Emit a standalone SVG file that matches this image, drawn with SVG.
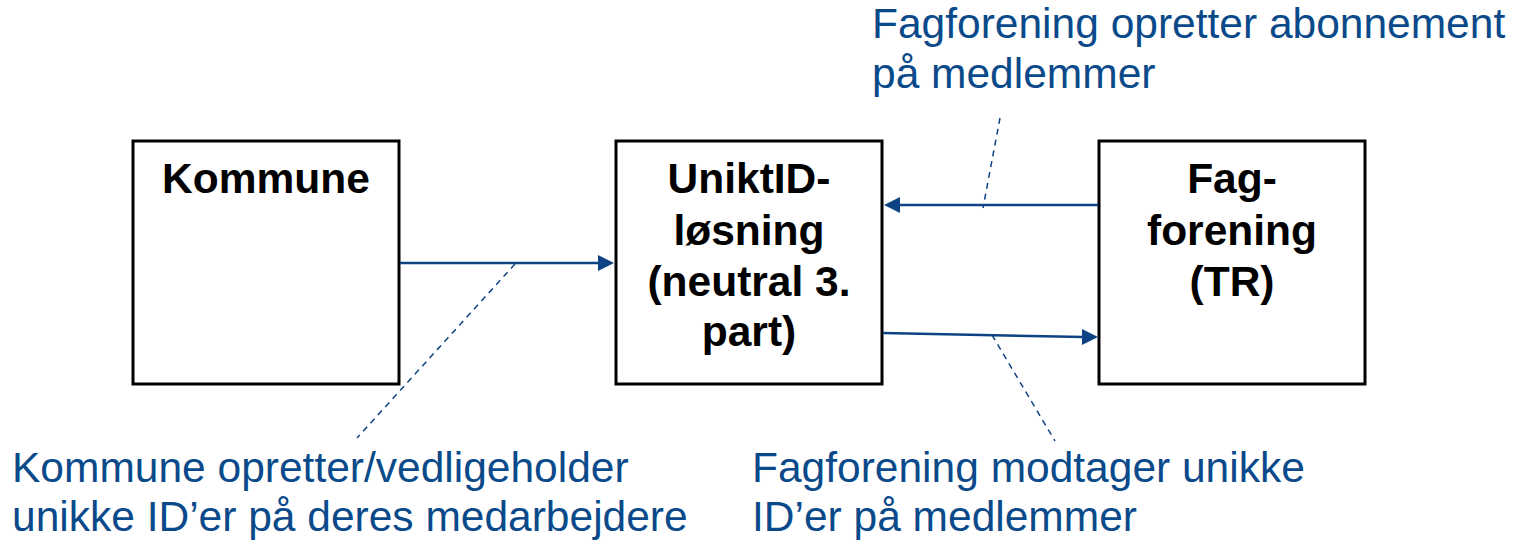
<svg xmlns="http://www.w3.org/2000/svg" width="1524" height="541" viewBox="0 0 1524 541">
<style>
.box{fill:#fff;stroke:#000;stroke-width:3}
.t{font-family:"Liberation Sans",Arial,sans-serif;font-weight:bold;font-size:42.5px;fill:#000;text-anchor:middle}
.lbl{font-family:"Liberation Sans",Arial,sans-serif;font-size:42.5px;fill:#0A4A8A}
.c{stroke:#0D4283;stroke-width:2.5;fill:none}
.d{stroke:#0D4283;stroke-width:1.5;fill:none;stroke-dasharray:6 5}
.ah{fill:#0D4283}
</style>
<rect width="1524" height="541" fill="#fff"/>
<g id="kommune">
<rect class="box" x="133" y="141" width="266" height="243"/>
<text class="t" x="266" y="193">Kommune</text>
</g>
<g id="uniktid">
<rect class="box" x="616" y="141" width="266" height="243"/>
<text class="t" x="749" y="193">UniktID-</text>
<text class="t" x="749" y="245">løsning</text>
<text class="t" x="749" y="296">(neutral 3.</text>
<text class="t" x="749" y="346">part)</text>
</g>
<g id="fagforening">
<rect class="box" x="1099" y="141" width="266" height="243"/>
<text class="t" x="1232" y="193">Fag-</text>
<text class="t" x="1232" y="245">forening</text>
<text class="t" x="1232" y="296">(TR)</text>
</g>
<g id="connectors">
<line class="c" x1="400" y1="263" x2="600" y2="263"/>
<path class="ah" d="M614,263 L598,255 L598,271 z"/>
<line class="c" x1="1098" y1="205" x2="898" y2="205"/>
<path class="ah" d="M884,205 L900,197 L900,213 z"/>
<line class="c" x1="883" y1="333" x2="1084" y2="337"/>
<path class="ah" d="M1098,337 L1082,329 L1082,345 z"/>
<line class="d" x1="515" y1="264" x2="357" y2="438"/>
<line class="d" x1="1000" y1="118" x2="983" y2="208"/>
<line class="d" x1="992" y1="335" x2="1055" y2="441"/>
</g>
<g id="labels">
<text class="lbl" x="872" y="38">Fagforening opretter abonnement</text>
<text class="lbl" x="872" y="88">på medlemmer</text>
<text class="lbl" x="12" y="482">Kommune opretter/vedligeholder</text>
<text class="lbl" x="12" y="531">unikke ID’er på deres medarbejdere</text>
<text class="lbl" x="752" y="482">Fagforening modtager unikke</text>
<text class="lbl" x="752" y="531">ID’er på medlemmer</text>
</g>
</svg>
